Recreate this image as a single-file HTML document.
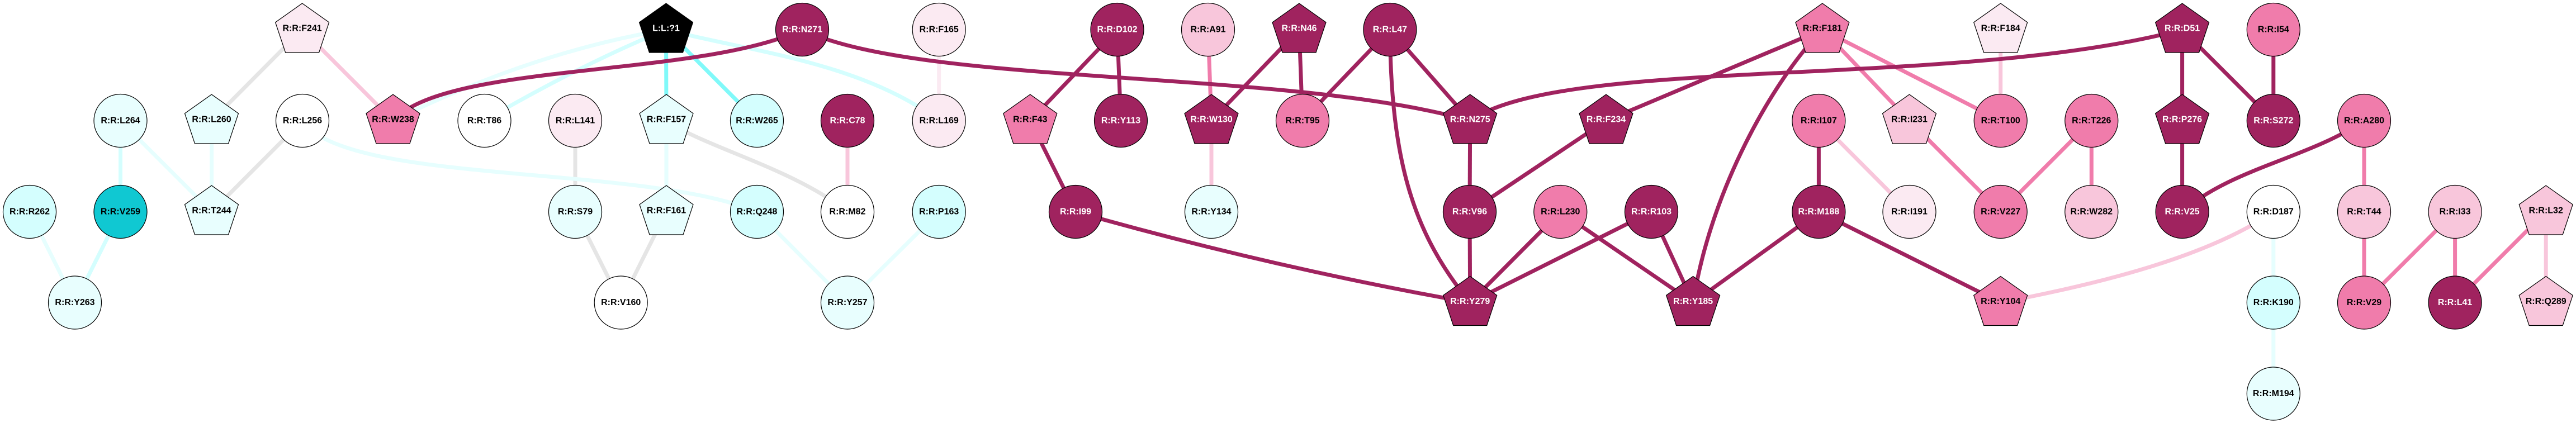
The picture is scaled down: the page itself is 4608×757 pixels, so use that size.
<!DOCTYPE html>
<html><head><meta charset="utf-8"><style>
html,body{margin:0;padding:0;background:#fff;}
svg{display:block;}
text{font-family:"Liberation Sans",Arial,sans-serif;font-weight:bold;font-size:16px;text-anchor:middle;dominant-baseline:central;}
.w{fill:#fff}.b{fill:#000}
</style></head><body>
<svg width="4608" height="757" viewBox="0 0 4608 757" xmlns="http://www.w3.org/2000/svg">
<g fill="none" stroke-width="7" stroke-linecap="butt">
<!-- grey -->
<g stroke="#e5e5e5">
<line x1="540.6" y1="53" x2="378.5" y2="216"/>
<line x1="541" y1="216" x2="378.5" y2="379"/>
<line x1="1029" y1="216" x2="1029" y2="379"/>
<path d="M1192,216 C1260,263 1420,302 1516,379"/>
<line x1="1029" y1="379" x2="1110.7" y2="541.5"/>
<line x1="1192" y1="379" x2="1110.7" y2="541.5"/>
</g>
<!-- very light cyan -->
<g stroke="#e6fefe">
<line x1="215.5" y1="216" x2="378.5" y2="379"/>
<line x1="378.5" y1="216" x2="378.5" y2="379"/>
<line x1="53" y1="379" x2="134" y2="541.5"/>
<path d="M541,216 C620,332 1150,293 1354,379"/>
<path d="M1191.5,53 Q952,93.5 703,216"/>
<line x1="1192" y1="216" x2="1192" y2="379"/>
<line x1="1354" y1="379" x2="1516" y2="541.5"/>
<line x1="1679.7" y1="379" x2="1516" y2="541.5"/>
<line x1="4066.8" y1="379" x2="4066.8" y2="541.5"/>
<line x1="4066.8" y1="541.5" x2="4066.8" y2="704.5"/>
</g>
<!-- light cyan -->
<g stroke="#d4fefe">
<line x1="215.5" y1="216" x2="215.5" y2="379"/>
<line x1="215.5" y1="379" x2="134" y2="541.5"/>
<path d="M1191.5,53 Q1040,115 866.5,216"/>
<path d="M1191.5,53 C1330,90 1540,110 1679.7,216"/>
</g>
<!-- bright cyan -->
<g stroke="#80f9f9">
<line x1="1191.5" y1="53" x2="1192" y2="216"/>
<line x1="1191.5" y1="53" x2="1354" y2="216"/>
</g>
<!-- very light pink -->
<g stroke="#fbeaf2">
<line x1="1679.7" y1="53" x2="1679.7" y2="216"/>
</g>
<!-- light pink -->
<g stroke="#f8c6db">
<line x1="540.6" y1="53" x2="703" y2="216"/>
<line x1="1516" y1="216" x2="1516" y2="379"/>
<line x1="2167" y1="216" x2="2167" y2="379"/>
<line x1="3253.4" y1="216" x2="3415.5" y2="379"/>
<line x1="3578.7" y1="53" x2="3578.7" y2="216"/>
<path d="M3578.7,541.5 C3760,507 3950,459 4066.8,379"/>
<line x1="4554.2" y1="379" x2="4554.2" y2="541.5"/>
</g>
<!-- medium pink -->
<g stroke="#f07cab">
<line x1="2161" y1="53" x2="2167" y2="216"/>
<line x1="3259.9" y1="53" x2="3415.5" y2="216"/>
<line x1="3259.9" y1="53" x2="3578.7" y2="216"/>
<line x1="3415.5" y1="216" x2="3578.7" y2="379"/>
<line x1="3741.3" y1="216" x2="3578.7" y2="379"/>
<line x1="3741.3" y1="216" x2="3741.3" y2="379"/>
<line x1="4229" y1="216" x2="4229" y2="379"/>
<line x1="4229" y1="379" x2="4229" y2="541.5"/>
<line x1="4391.6" y1="379" x2="4229" y2="541.5"/>
<line x1="4391.6" y1="379" x2="4391.6" y2="541.5"/>
<line x1="4554.2" y1="379" x2="4391.6" y2="541.5"/>
</g>
<!-- dark magenta -->
<g stroke="#a0235f">
<path d="M703,216 C800,110 1250,140 1435,53"/>
<path d="M1435,53 C1650,156 2300,122 2629.7,216"/>
<line x1="1998.5" y1="53" x2="1842.8" y2="216"/>
<line x1="1998.5" y1="53" x2="2005" y2="216"/>
<line x1="1842.8" y1="216" x2="1924" y2="379"/>
<line x1="2324" y1="53" x2="2167" y2="216"/>
<line x1="2324" y1="53" x2="2330" y2="216"/>
<line x1="2486.4" y1="53" x2="2330" y2="216"/>
<line x1="2486.4" y1="53" x2="2629.7" y2="216"/>
<path d="M1924,379 Q2277,479 2629.7,541.5"/>
<path d="M2486.4,53 C2488,293 2530,420 2629.7,541.5"/>
<line x1="2629.7" y1="216" x2="2629" y2="379"/>
<path d="M2629.7,216 C2800,98 3500,161 3903.6,53"/>
<line x1="2873" y1="216" x2="3259.9" y2="53"/>
<line x1="2873" y1="216" x2="2629" y2="379"/>
<line x1="2629" y1="379" x2="2629.7" y2="541.5"/>
<line x1="2791.3" y1="379" x2="2629.7" y2="541.5"/>
<line x1="2791.3" y1="379" x2="3028.6" y2="541.5"/>
<line x1="2954" y1="379" x2="2629.7" y2="541.5"/>
<line x1="2954" y1="379" x2="3028.6" y2="541.5"/>
<path d="M3259.9,53 C3170,146 3060,341 3028.6,541.5"/>
<line x1="3253.4" y1="379" x2="3028.6" y2="541.5"/>
<line x1="3253.4" y1="379" x2="3578.7" y2="541.5"/>
<line x1="3253.4" y1="216" x2="3253.4" y2="379"/>
<line x1="3903.6" y1="53" x2="3903.6" y2="216"/>
<line x1="3903.6" y1="53" x2="4066.8" y2="216"/>
<line x1="4066.8" y1="53" x2="4066.8" y2="216"/>
<line x1="3903.6" y1="216" x2="3903.6" y2="379"/>
<path d="M4229,216 C4130,283 3990,302 3903.6,379"/>
</g>
</g>

<g stroke="#000" stroke-width="1.2">
<!-- pentagons: top cy-47, sides cy-13 (+/-48), bottom cy+41 (+/-30) -->
<polygon fill="#fbeaf2" points="540.6,6 588.6,40 570.6,94 510.6,94 492.6,40"/>
<polygon fill="#000000" points="1191.5,6 1239.5,40 1221.5,94 1161.5,94 1143.5,40"/>
<polygon fill="#a0235f" points="2324,6 2372,40 2354,94 2294,94 2276,40"/>
<polygon fill="#f07cab" points="3259.9,6 3307.9,40 3289.9,94 3229.9,94 3211.9,40"/>
<polygon fill="#fbeaf2" points="3578.7,6 3626.7,40 3608.7,94 3548.7,94 3530.7,40"/>
<polygon fill="#a0235f" points="3903.6,6 3951.6,40 3933.6,94 3873.6,94 3855.6,40"/>

<polygon fill="#e8fefe" points="378.5,169 426.5,203 408.5,257 348.5,257 330.5,203"/>
<polygon fill="#f07cab" points="703,169 751,203 733,257 673,257 655,203"/>
<polygon fill="#e8fefe" points="1192,169 1240,203 1222,257 1162,257 1144,203"/>
<polygon fill="#f07cab" points="1842.8,169 1890.8,203 1872.8,257 1812.8,257 1794.8,203"/>
<polygon fill="#a0235f" points="2167,169 2215,203 2197,257 2137,257 2119,203"/>
<polygon fill="#a0235f" points="2629.7,169 2677.7,203 2659.7,257 2599.7,257 2581.7,203"/>
<polygon fill="#a0235f" points="2873,169 2921,203 2903,257 2843,257 2825,203"/>
<polygon fill="#f8c6db" points="3415.5,169 3463.5,203 3445.5,257 3385.5,257 3367.5,203"/>
<polygon fill="#a0235f" points="3903.6,169 3951.6,203 3933.6,257 3873.6,257 3855.6,203"/>

<polygon fill="#e8fefe" points="378.5,332 426.5,366 408.5,420 348.5,420 330.5,366"/>
<polygon fill="#e8fefe" points="1192,332 1240,366 1222,420 1162,420 1144,366"/>
<polygon fill="#f8c6db" points="4554.2,332 4602.2,366 4584.2,420 4524.2,420 4506.2,366"/>

<polygon fill="#a0235f" points="2629.7,494.5 2677.7,528.5 2659.7,582.5 2599.7,582.5 2581.7,528.5"/>
<polygon fill="#a0235f" points="3028.6,494.5 3076.6,528.5 3058.6,582.5 2998.6,582.5 2980.6,528.5"/>
<polygon fill="#f07cab" points="3578.7,494.5 3626.7,528.5 3608.7,582.5 3548.7,582.5 3530.7,528.5"/>
<polygon fill="#f8c6db" points="4554.2,494.5 4602.2,528.5 4584.2,582.5 4524.2,582.5 4506.2,528.5"/>

<!-- circles row0 -->
<circle cx="1435" cy="53" r="47.5" fill="#a0235f"/>
<circle cx="1679.7" cy="53" r="47.5" fill="#fbeaf2"/>
<circle cx="1998.5" cy="53" r="47.5" fill="#a0235f"/>
<circle cx="2161" cy="53" r="47.5" fill="#f8c6db"/>
<circle cx="2486.4" cy="53" r="47.5" fill="#a0235f"/>
<circle cx="4066.8" cy="53" r="47.5" fill="#f07cab"/>
<!-- row1 -->
<circle cx="215.5" cy="216" r="47.5" fill="#e8fefe"/>
<circle cx="541" cy="216" r="47.5" fill="#ffffff"/>
<circle cx="866.5" cy="216" r="47.5" fill="#ffffff"/>
<circle cx="1029" cy="216" r="47.5" fill="#fbeaf2"/>
<circle cx="1354" cy="216" r="47.5" fill="#d4fefe"/>
<circle cx="1516" cy="216" r="47.5" fill="#a0235f"/>
<circle cx="1679.7" cy="216" r="47.5" fill="#fbeaf2"/>
<circle cx="2005" cy="216" r="47.5" fill="#a0235f"/>
<circle cx="2330" cy="216" r="47.5" fill="#f07cab"/>
<circle cx="3253.4" cy="216" r="47.5" fill="#f07cab"/>
<circle cx="3578.7" cy="216" r="47.5" fill="#f07cab"/>
<circle cx="3741.3" cy="216" r="47.5" fill="#f07cab"/>
<circle cx="4066.8" cy="216" r="47.5" fill="#a0235f"/>
<circle cx="4229" cy="216" r="47.5" fill="#f07cab"/>
<!-- row2 -->
<circle cx="53" cy="379" r="47.5" fill="#d4fefe"/>
<circle cx="215.5" cy="379" r="47.5" fill="#10c8d2"/>
<circle cx="1029" cy="379" r="47.5" fill="#e8fefe"/>
<circle cx="1354" cy="379" r="47.5" fill="#d4fefe"/>
<circle cx="1516" cy="379" r="47.5" fill="#ffffff"/>
<circle cx="1679.7" cy="379" r="47.5" fill="#d4fefe"/>
<circle cx="1924" cy="379" r="47.5" fill="#a0235f"/>
<circle cx="2167" cy="379" r="47.5" fill="#e8fefe"/>
<circle cx="2629" cy="379" r="47.5" fill="#a0235f"/>
<circle cx="2791.3" cy="379" r="47.5" fill="#f07cab"/>
<circle cx="2954" cy="379" r="47.5" fill="#a0235f"/>
<circle cx="3253.4" cy="379" r="47.5" fill="#a0235f"/>
<circle cx="3415.5" cy="379" r="47.5" fill="#fbeaf2"/>
<circle cx="3578.7" cy="379" r="47.5" fill="#f07cab"/>
<circle cx="3741.3" cy="379" r="47.5" fill="#f8c6db"/>
<circle cx="3903.6" cy="379" r="47.5" fill="#a0235f"/>
<circle cx="4066.8" cy="379" r="47.5" fill="#ffffff"/>
<circle cx="4229" cy="379" r="47.5" fill="#f8c6db"/>
<circle cx="4391.6" cy="379" r="47.5" fill="#f8c6db"/>
<!-- row3 -->
<circle cx="134" cy="541.5" r="47.5" fill="#e8fefe"/>
<circle cx="1110.7" cy="541.5" r="47.5" fill="#ffffff"/>
<circle cx="1516" cy="541.5" r="47.5" fill="#e8fefe"/>
<circle cx="4066.8" cy="541.5" r="47.5" fill="#d4fefe"/>
<circle cx="4229" cy="541.5" r="47.5" fill="#f07cab"/>
<circle cx="4391.6" cy="541.5" r="47.5" fill="#a0235f"/>
<!-- row4 -->
<circle cx="4066.8" cy="704.5" r="47.5" fill="#e8fefe"/>
</g>

<!-- labels -->
<g>
<text x="540.6" y="51">R:R:F241</text>
<text x="1191.5" y="51" class="w">L:L:?1</text>
<text x="1435" y="53" class="w">R:R:N271</text>
<text x="1679.7" y="53">R:R:F165</text>
<text x="1998.5" y="53" class="w">R:R:D102</text>
<text x="2161" y="53">R:R:A91</text>
<text x="2324" y="51" class="w">R:R:N46</text>
<text x="2486.4" y="53" class="w">R:R:L47</text>
<text x="3259.9" y="51">R:R:F181</text>
<text x="3578.7" y="51">R:R:F184</text>
<text x="3903.6" y="51" class="w">R:R:D51</text>
<text x="4066.8" y="53">R:R:I54</text>

<text x="215.5" y="216">R:R:L264</text>
<text x="378.5" y="214">R:R:L260</text>
<text x="541" y="216">R:R:L256</text>
<text x="703" y="214">R:R:W238</text>
<text x="866.5" y="216">R:R:T86</text>
<text x="1029" y="216">R:R:L141</text>
<text x="1192" y="214">R:R:F157</text>
<text x="1354" y="216">R:R:W265</text>
<text x="1516" y="216" class="w">R:R:C78</text>
<text x="1679.7" y="216">R:R:L169</text>
<text x="1842.8" y="214">R:R:F43</text>
<text x="2005" y="216" class="w">R:R:Y113</text>
<text x="2167" y="214" class="w">R:R:W130</text>
<text x="2330" y="216">R:R:T95</text>
<text x="2629.7" y="214" class="w">R:R:N275</text>
<text x="2873" y="214" class="w">R:R:F234</text>
<text x="3253.4" y="216">R:R:I107</text>
<text x="3415.5" y="214">R:R:I231</text>
<text x="3578.7" y="216">R:R:T100</text>
<text x="3741.3" y="216">R:R:T226</text>
<text x="3903.6" y="214" class="w">R:R:P276</text>
<text x="4066.8" y="216" class="w">R:R:S272</text>
<text x="4229" y="216">R:R:A280</text>

<text x="53" y="379">R:R:R262</text>
<text x="215.5" y="379">R:R:V259</text>
<text x="378.5" y="377">R:R:T244</text>
<text x="1029" y="379">R:R:S79</text>
<text x="1192" y="377">R:R:F161</text>
<text x="1354" y="379">R:R:Q248</text>
<text x="1516" y="379">R:R:M82</text>
<text x="1679.7" y="379">R:R:P163</text>
<text x="1924" y="379" class="w">R:R:I99</text>
<text x="2167" y="379">R:R:Y134</text>
<text x="2629" y="379" class="w">R:R:V96</text>
<text x="2791.3" y="379">R:R:L230</text>
<text x="2954" y="379" class="w">R:R:R103</text>
<text x="3253.4" y="379" class="w">R:R:M188</text>
<text x="3415.5" y="379">R:R:I191</text>
<text x="3578.7" y="379">R:R:V227</text>
<text x="3741.3" y="379">R:R:W282</text>
<text x="3903.6" y="379" class="w">R:R:V25</text>
<text x="4066.8" y="379">R:R:D187</text>
<text x="4229" y="379">R:R:T44</text>
<text x="4391.6" y="379">R:R:I33</text>
<text x="4554.2" y="377">R:R:L32</text>

<text x="134" y="541.5">R:R:Y263</text>
<text x="1110.7" y="541.5">R:R:V160</text>
<text x="1516" y="541.5">R:R:Y257</text>
<text x="2629.7" y="539.5" class="w">R:R:Y279</text>
<text x="3028.6" y="539.5" class="w">R:R:Y185</text>
<text x="3578.7" y="539.5">R:R:Y104</text>
<text x="4066.8" y="541.5">R:R:K190</text>
<text x="4229" y="541.5">R:R:V29</text>
<text x="4391.6" y="541.5" class="w">R:R:L41</text>
<text x="4554.2" y="539.5">R:R:Q289</text>

<text x="4066.8" y="704.5">R:R:M194</text>
</g>
</svg>
</body></html>
